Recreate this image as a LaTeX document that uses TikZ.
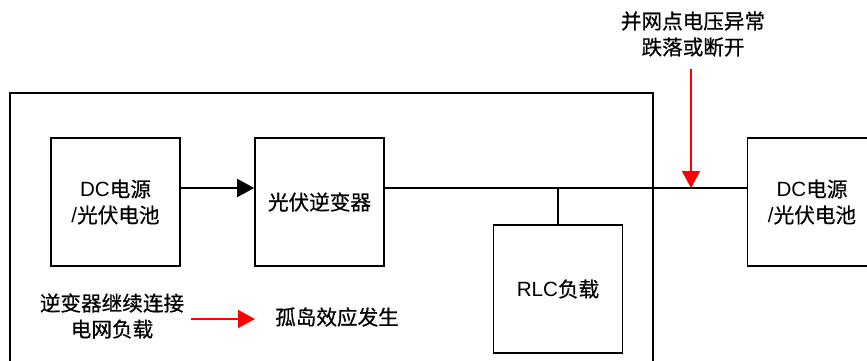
\documentclass[tikz,border=0pt]{standalone}
\usepackage{fontspec}
\setmainfont{Liberation Sans}
\newfontfamily\cjk[FakeBold=0.6]{Noto Sans CJK SC}
\usetikzlibrary{positioning}
\usetikzlibrary{arrows.meta}

\newcommand{\fs}{\fontsize{20.6}{26}\selectfont}

\begin{document}
\begin{tikzpicture}[x=1pt,y=-1pt,line width=1.6pt,>={Triangle[length=17pt,width=18pt]},
    box/.style={draw,minimum width=129pt,minimum height=128pt,align=center,font=\fs},
    txt/.style={align=center,font=\fs\cjk}]
      \clip (0,0) rectangle (867,360);
      \draw (10,93) rectangle (653,380);
      \node[box] (dc) at (115.5,202) {DC{\cjk 电源}\\/{\cjk 光伏电池}};
      \node[box] (inv) at (319.5,202) {\cjk 光伏逆变器};
      \node[box] (rlc) at (558,289) {RLC{\cjk 负载}};
      \node[box] (grid) at (812,202) {DC{\cjk 电源}\\/{\cjk 光伏电池}};
      \node[txt] (warn) at (693,34) {并网点电压异常\\跌落或断开};
      \node[txt] (cont) at (112,316) {逆变器继续连接\\电网负载};
      \node[txt] (island) at (337,317) {孤岛效应发生};
      \coordinate (drop) at (691,69);
      \coordinate (pcc) at (691,188);
      \coordinate (tap) at (558,188);
      \coordinate (ra) at (191,319);
      \coordinate (rb) at (255,319);
      \draw[->] ([yshift=14pt]dc.east) -- ([yshift=14pt]inv.west);
      \draw ([yshift=14pt]inv.east) -- ([yshift=14pt]grid.west);
      \draw (tap) -- (rlc.north);
      \draw[red,->] (drop) -- (pcc);
      \draw[red,->] (ra) -- (rb);
    \end{tikzpicture}
\end{document}
